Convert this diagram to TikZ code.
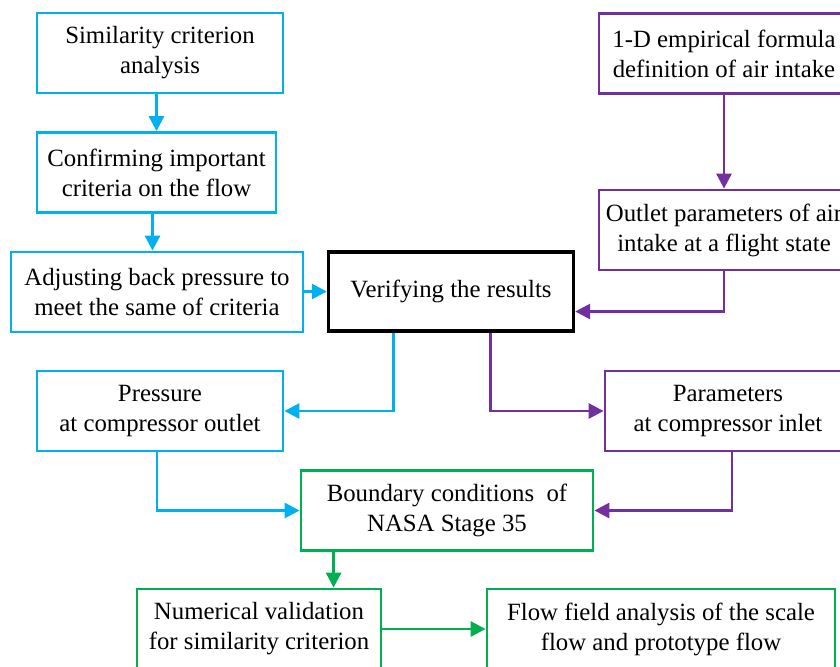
\documentclass[tikz,border=0pt]{standalone}
\usepackage{fontspec}
\setmainfont{Liberation Serif}
\usepackage{xcolor}
\usetikzlibrary{arrows.meta,calc,positioning}
\definecolor{stepblue}{RGB}{0,176,240}
\definecolor{intakepurple}{RGB}{112,48,160}
\definecolor{bcgreen}{RGB}{0,176,80}

\begin{document}
\begin{tikzpicture}[
    x=0.5pt, y=-0.5pt,
    box/.style={rectangle, draw, line width=1.4pt, minimum height=40pt, align=center, inner sep=0pt, font=\fontsize{12.4}{15}\selectfont},
    bluebox/.style={box, draw=stepblue},
    purplebox/.style={box, draw=intakepurple},
    greenbox/.style={box, draw=bcgreen},
    checkbox/.style={box, draw=black, line width=1.7pt},
    link/.style={line width=1.4pt, -{Triangle[length=7.5pt,width=7.5pt]}},
    bluelink/.style={link, stepblue},
    purplelink/.style={link, intakepurple},
    greenlink/.style={link, bcgreen}
]
\clip (0,0) rectangle (840,666);

% left column: similarity criterion
\node[bluebox, minimum width=123pt] (simcrit) at (160,53) {Similarity criterion\\analysis};
\node[bluebox, minimum width=119.5pt] (confirm) at (156.5,172.5) {Confirming important\\criteria on the flow};
\node[bluebox, minimum width=146pt] (adjust) at (157,292) {Adjusting back pressure to\\meet the same of criteria};

% right column: air intake
\node[purplebox, minimum width=125pt] (empirical) at (724,53.5) {1-D empirical formula\\definition of air intake};
\node[purplebox, minimum width=125pt] (outletpar) at (724,230) {Outlet parameters of air\\intake at a flight state};

% verification
\node[checkbox, minimum width=122.5pt, minimum height=39.5pt] (verify) at (451,291.5) {Verifying the results};

\node[bluebox, minimum width=123pt] (pressure) at (160,411) {Pressure\\at compressor outlet};
\node[purplebox, minimum width=123pt] (inletpar) at (728,411) {Parameters\\at compressor inlet};

% boundary conditions and results
\node[greenbox, minimum width=146pt] (boundary) at (447,510.5) {Boundary conditions~ of\\NASA Stage 35};
\node[greenbox, minimum width=122pt] (numval) at (259,629) {Numerical validation\\for similarity criterion};
\node[greenbox, minimum width=174pt] (flowfield) at (661,629) {Flow field analysis of the scale\\flow and prototype flow};

\draw[bluelink] (simcrit.south -| confirm.north) -- (confirm.north);
\draw[bluelink] ([xshift=-2pt]confirm.south) -- ([xshift=-2pt]confirm.south |- adjust.north);
\draw[bluelink] (adjust.east |- verify.west) -- (verify.west);
\draw[purplelink] (empirical.south) -- (outletpar.north);
\draw[purplelink] (outletpar.south) |- ([yshift=-10pt]verify.east);
\draw[bluelink] ([xshift=33.5pt]verify.south west) |- (pressure.east);
\draw[purplelink] ([xshift=82pt]verify.south west) |- (inletpar.west);
\draw[bluelink] ([xshift=-1.5pt]pressure.south) |- (boundary.west);
\draw[purplelink] ([xshift=2pt]inletpar.south) |- (boundary.east);
\draw[greenlink] ([xshift=17pt]boundary.south west) -- ([xshift=17pt]boundary.south west |- numval.north);
\draw[greenlink] (numval.east) -- (flowfield.west);

\end{tikzpicture}
\end{document}
